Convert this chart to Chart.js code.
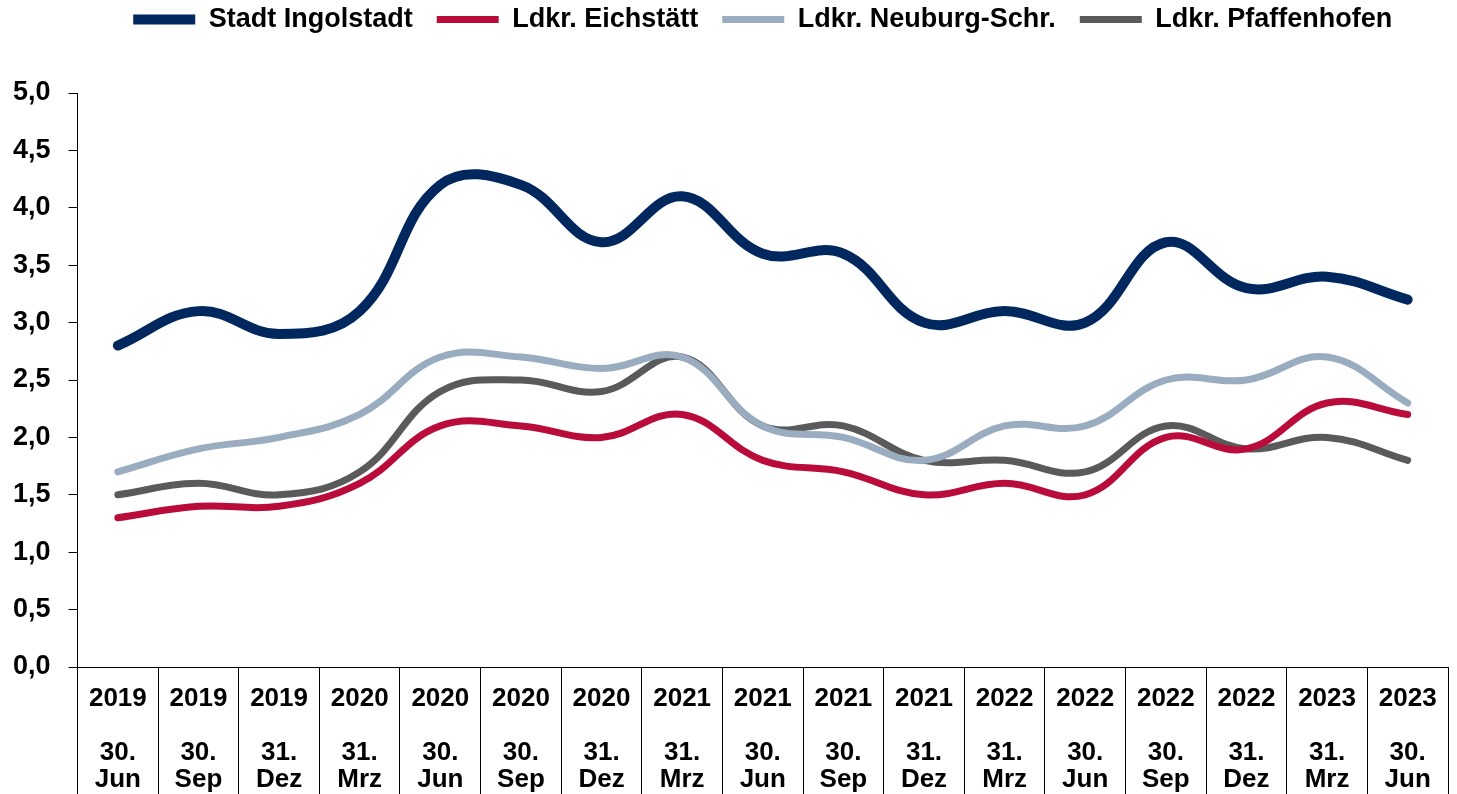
<!DOCTYPE html>
<html>
<head>
<meta charset="utf-8">
<script src="https://cdn.jsdelivr.net/npm/chart.js@4/dist/chart.umd.min.js"></script>
<style>
  html, body { margin: 0; padding: 0; background: #fff; }
  #wrap { width: 1457px; height: 794px; }
</style>
</head>
<body>
<div id="wrap"><canvas id="chart"></canvas></div>
<script>
// Stichtage
const years = ['2019', '2019', '2019', '2020', '2020', '2020', '2020', '2021', '2021', '2021', '2021', '2022', '2022', '2022', '2022', '2023', '2023'];
const days = ['30.', '30.', '31.', '31.', '30.', '30.', '31.', '31.', '30.', '30.', '31.', '31.', '30.', '30.', '31.', '31.', '30.'];
const months = ['Jun', 'Sep', 'Dez', 'Mrz', 'Jun', 'Sep', 'Dez', 'Mrz', 'Jun', 'Sep', 'Dez', 'Mrz', 'Jun', 'Sep', 'Dez', 'Mrz', 'Jun'];

// Werte je Region
const ingolstadt = [2.8, 3.1, 2.9, 3.1, 4.2, 4.2, 3.7, 4.1, 3.6, 3.6, 3.0, 3.1, 3.0, 3.7, 3.3, 3.4, 3.2];
const eichstaett = [1.3, 1.4, 1.4, 1.6, 2.1, 2.1, 2.0, 2.2, 1.8, 1.7, 1.5, 1.6, 1.5, 2.0, 1.9, 2.3, 2.2];
const neuburg = [1.7, 1.9, 2.0, 2.2, 2.7, 2.7, 2.6, 2.7, 2.1, 2.0, 1.8, 2.1, 2.1, 2.5, 2.5, 2.7, 2.3];
const pfaffenhofen = [1.5, 1.6, 1.5, 1.7, 2.4, 2.5, 2.4, 2.7, 2.1, 2.1, 1.8, 1.8, 1.7, 2.1, 1.9, 2.0, 1.8];

const yTicks = [0, 0.5, 1, 1.5, 2, 2.5, 3, 3.5, 4, 4.5, 5];

// year, blank, day, month + empty lines so the long separator ticks fit inside the axis box
const labels = years.map((y, i) => [y, '', days[i], months[i], '', '', '', '', '']);

const font = 'Liberation Sans, Arial, sans-serif';

const series = (label, data, color, width) => ({
    label,
    data,
    borderColor: color,
    backgroundColor: color,
    borderWidth: width,
    borderCapStyle: 'round',
    borderJoinStyle: 'round',
    pointRadius: 0,
    pointHoverRadius: 0,
    tension: 0.4,
    fill: false
});

// extra room between legend and plot
const legendGap = {
    id: 'legendGap',
    beforeInit(chart) {
        const fit = chart.legend.fit;
        chart.legend.fit = function () {
            fit.call(this);
            this.height += 50;
        };
    }
};

new Chart(document.getElementById('chart'), {
    type: 'line',
    data: {
        labels,
        datasets: [
            series('Stadt Ingolstadt', ingolstadt, '#00285e', 10),
            series('Ldkr. Eichstätt', eichstaett, '#ba0c3b', 7),
            series('Ldkr. Neuburg-Schr.', neuburg, '#9aadc0', 7),
            series('Ldkr. Pfaffenhofen', pfaffenhofen, '#5a5a5a', 7)
        ]
    },
    plugins: [legendGap],
    options: {
        responsive: true,
        maintainAspectRatio: false,
        animation: false,
        layout: { padding: { left: -5, right: 9, top: -18, bottom: 0 } },
        plugins: {
            tooltip: { enabled: false },
            legend: {
                position: 'top',
                fullSize: false,
                labels: {
                    usePointStyle: true,
                    pointStyle: 'line',
                    pointStyleWidth: 62,
                    color: '#000',
                    padding: 24,
                    font: { family: font, size: 27, weight: 'bold' }
                }
            }
        },
        scales: {
            x: {
                offset: true,
                grid: {
                    display: true,
                    offset: true,
                    drawOnChartArea: false,
                    drawTicks: true,
                    tickLength: 152,
                    color: '#000',
                    lineWidth: 1
                },
                border: { display: true, color: '#000', width: 1 },
                ticks: {
                    color: '#000',
                    padding: -134,
                    maxRotation: 0,
                    autoSkip: false,
                    font: { family: font, size: 26, weight: 'bold', lineHeight: '27px' }
                }
            },
            y: {
                min: 0,
                max: 5,
                afterBuildTicks: scale => { scale.ticks = yTicks.map(v => ({ value: v })); },
                grid: {
                    drawOnChartArea: false,
                    drawTicks: true,
                    tickLength: 9,
                    color: '#000'
                },
                border: { display: true, color: '#000', width: 1 },
                ticks: {
                    color: '#000',
                    padding: 18,
                    callback: v => v.toFixed(1).replace('.', ','),
                    font: { family: font, size: 27, weight: 'bold' }
                }
            }
        }
    }
});
</script>
</body>
</html>
